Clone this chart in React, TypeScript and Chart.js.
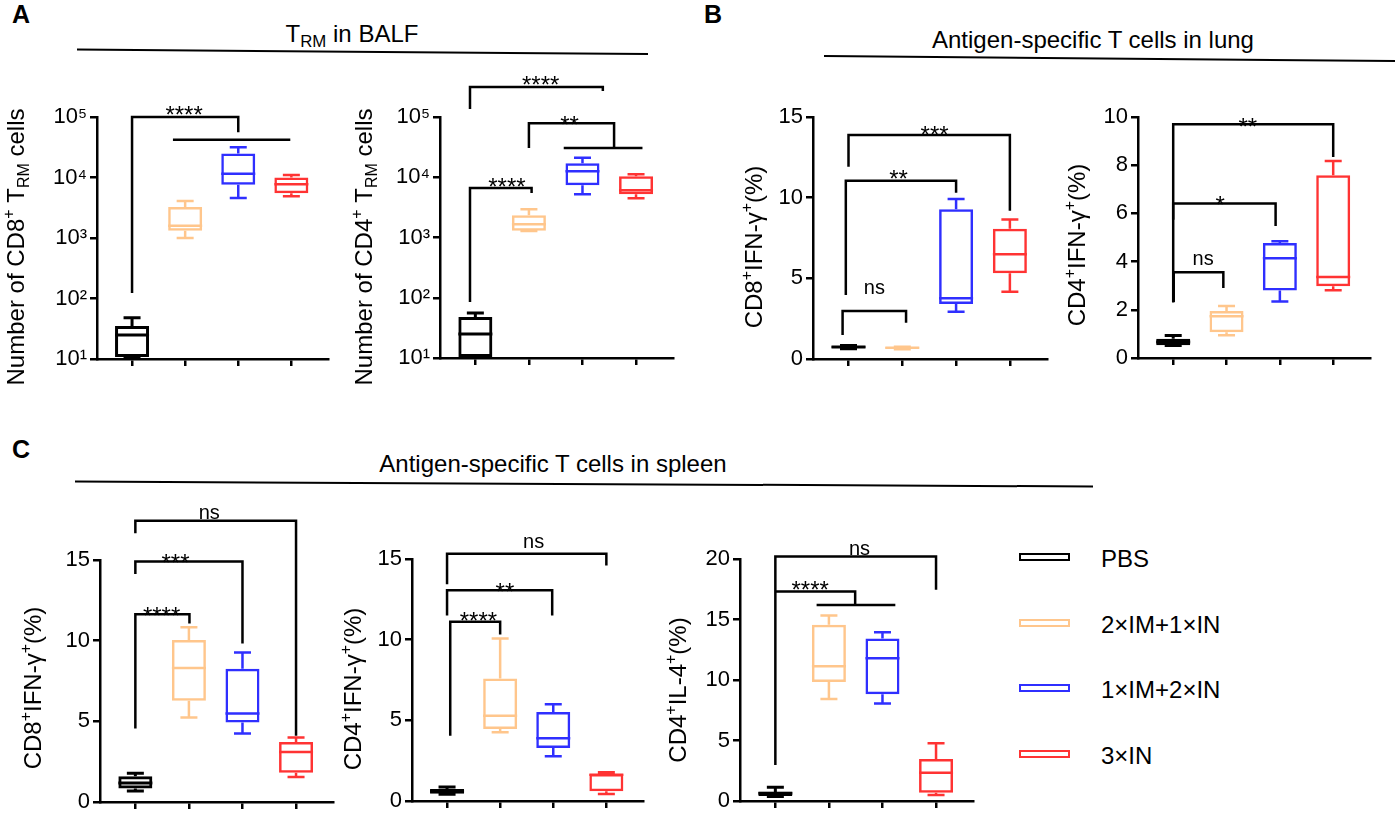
import React, { useEffect, useRef } from 'react';
import { Chart, registerables } from 'chart.js';

Chart.register(...registerables);

const FONT = "'Liberation Sans', Arial, Helvetica, sans-serif";

// ---------------- data ----------------
const GROUP_LABELS = ['PBS', '2×IM+1×IN', '1×IM+2×IN', '3×IN'];
const GROUP_X = [0, 1, 2, 3];

// five-number summaries per group: [min, q1, median, q3, max]
const A1_CD8_TRM = [
  [10.3, 10.8, 25, 35, 48],
  [1000, 1320, 1600, 3250, 4100],
  [4600, 7600, 11500, 25000, 31600],
  [4900, 5500, 7700, 10000, 11000],
];
const A2_CD4_TRM = [
  [10.2, 10.4, 25, 48, 56],
  [1280, 1290, 1660, 2350, 2950],
  [5200, 7400, 12600, 17000, 21000],
  [4500, 5200, 6100, 10400, 11200],
];
const B1_CD8_IFNG_LUNG = [
  [0.64, 0.68, 0.74, 0.8, 0.84],
  [0.6, 0.63, 0.7, 0.74, 0.76],
  [2.93, 3.41, 3.76, 9.28, 9.92],
  [4.17, 5.31, 6.49, 8.08, 8.64],
];
const B2_CD4_IFNG_LUNG = [
  [0.52, 0.53, 0.66, 0.8, 0.93],
  [0.94, 1.07, 1.73, 1.95, 2.16],
  [2.34, 2.8, 4.14, 4.77, 4.84],
  [2.81, 2.98, 3.36, 7.58, 8.17],
];
const C1_CD8_IFNG_SPLEEN = [
  [0.68, 0.83, 1.18, 1.6, 1.78],
  [5.24, 6.27, 8.3, 10.04, 10.83],
  [4.24, 4.93, 5.49, 8.26, 9.27],
  [1.55, 1.82, 3.1, 3.72, 4.0],
];
const C2_CD4_IFNG_SPLEEN = [
  [0.42, 0.45, 0.6, 0.74, 0.87],
  [4.26, 4.47, 5.28, 7.59, 10.07],
  [2.77, 3.29, 3.89, 5.52, 6.0],
  [0.43, 0.6, 1.62, 1.68, 1.78],
];
const C3_CD4_IL4_SPLEEN = [
  [0.38, 0.41, 0.64, 0.77, 1.13],
  [8.44, 9.84, 11.14, 14.56, 15.33],
  [8.05, 8.82, 11.8, 13.43, 13.95],
  [0.5, 0.69, 2.34, 3.47, 4.77],
];

// tick values
const LOG_TICKS = [10, 100, 1000, 10000, 100000];
const PCT15_TICKS = [0, 5, 10, 15];
const PCT10_TICKS = [0, 2, 4, 6, 8, 10];
const PCT20_TICKS = [0, 5, 10, 15, 20];

// significance brackets (data units): x1,x2 group positions, y bar height, y1/y2 leg ends
type Bracket = { x1: number; x2: number; y: number; y1?: number; y2?: number; label?: string; lx?: number; gap?: number };
const A1_BRACKETS: Bracket[] = [
  { x1: 0, x2: 2, y: 100000, y1: 123, y2: 56000, label: '****', lx: 0.98, gap: 4 },
  { x1: 0.77, x2: 2.98, y: 42000 },
];
const A2_BRACKETS: Bracket[] = [
  { x1: -0.1, x2: 2.38, y: 315000, y1: 136000, y2: 270000, label: '****', lx: 1.22, gap: 4 },
  { x1: 1, x2: 2.59, y: 79000, y1: 30500, y2: 30500, label: '**', lx: 1.76, gap: 0 },
  { x1: 1.65, x2: 3.12, y: 30500 },
  { x1: -0.1, x2: 1.05, y: 6600, y1: 85, y2: 5500, label: '****', lx: 0.59, gap: 3 },
];
const B1_BRACKETS: Bracket[] = [
  { x1: 0, x2: 3, y: 13.89, y1: 11.92, y2: 9.19, label: '***', lx: 1.6, gap: 2 },
  { x1: -0.05, x2: 2, y: 11.05, y1: 3.97, y2: 10.31, label: '**', lx: 0.93, gap: 4 },
  { x1: -0.11, x2: 1.07, y: 2.98, y1: 1.49, y2: 2.25, label: 'ns', lx: 0.48, gap: 17 },
];
const B2_BRACKETS: Bracket[] = [
  { x1: 0, x2: 3, y: 9.7, y1: 5.74, y2: 8.34, label: '**', lx: 1.4, gap: -1 },
  { x1: 0, x2: 1.92, y: 6.41, y1: 2.3, y2: 5.48, label: '*', lx: 0.88, gap: 0 },
  { x1: 0.01, x2: 0.94, y: 3.56, y1: 2.32, y2: 2.9, label: 'ns', lx: 0.56, gap: 7 },
];
const C1_BRACKETS: Bracket[] = [
  { x1: 0, x2: 3, y: 17.44, y1: 16.66, y2: 4.1, label: 'ns', lx: 1.38, gap: 2 },
  { x1: 0, x2: 2, y: 14.9, y1: 14.13, y2: 9.83, label: '***', lx: 0.75, gap: 0 },
  { x1: 0, x2: 1.01, y: 11.63, y1: 4.55, y2: 11.07, label: '****', lx: 0.49, gap: 0 },
];
const C2_BRACKETS: Bracket[] = [
  { x1: 0, x2: 3, y: 15.33, y1: 13.43, y2: 14.6, label: 'ns', lx: 1.63, gap: 6 },
  { x1: 0, x2: 1.98, y: 13.07, y1: 11.5, y2: 11.5, label: '**', lx: 1.09, gap: 0 },
  { x1: 0.06, x2: 1.0, y: 11.11, y1: 4.05, y2: 10.32, label: '****', lx: 0.59, gap: 3 },
];
const C3_BRACKETS: Bracket[] = [
  { x1: 0, x2: 3, y: 20.2, y1: 2.98, y2: 17.45, label: 'ns', lx: 1.57, gap: 2 },
  { x1: 0, x2: 1.49, y: 17.31, y2: 16.2, label: '****', lx: 0.65, gap: 3 },
  { x1: 0.77, x2: 2.24, y: 16.2 },
];

// ---------------- styles ----------------
const GROUP_COLORS = ['#000000', '#FFC68C', '#2F2FFF', '#FF3333'];
const BOX_W = 34;
const CAP_HALF = 8.5;
const AXIS_W = 2.5;

type Seg = [string, ('sup' | 'sub')?];

function segFont(size: number, kind?: string) {
  return `${kind ? Math.round(size * 0.65) : size}px ${FONT}`;
}
function richWidth(ctx: CanvasRenderingContext2D, segs: Seg[], size: number) {
  let w = 0;
  for (const [t, k] of segs) {
    ctx.font = segFont(size, k);
    w += ctx.measureText(t).width;
  }
  return w;
}
function drawRich(ctx: CanvasRenderingContext2D, segs: Seg[], x: number, baseline: number, size: number) {
  let cx = x;
  for (const [t, k] of segs) {
    ctx.font = segFont(size, k);
    const dy = k === 'sup' ? -size * 0.42 : k === 'sub' ? size * 0.22 : 0;
    ctx.fillText(t, cx, baseline + dy);
    cx += ctx.measureText(t).width;
  }
}

const SUP: Record<number, string> = { 1: '¹', 2: '²', 3: '³', 4: '⁴', 5: '⁵' };

interface Spec {
  boxes: number[][];
  yType: 'log' | 'linear';
  yMin: number;
  yMax: number;
  yTicks: number[];
  title: Seg[];
  titleCX: number;
  titleCY: number;
  area: { l: number; t: number; r: number; b: number };
  pt: number;
  brackets: Bracket[];
}

const YW = 95;
const PR = 12;
const XH = 12;
const PB = 40;
const TITLE_SIZE = 24;

function makePlugin(spec: Spec, canvasLeft: number, canvasTop: number) {
  return {
    id: 'boxExtras',
    afterDatasetsDraw(chart: any) {
      const ctx: CanvasRenderingContext2D = chart.ctx;
      const xs = chart.scales.x;
      const ys = chart.scales.y;
      ctx.save();
      spec.boxes.forEach((b, i) => {
        const xc = xs.getPixelForValue(GROUP_X[i]);
        const lw = i === 0 ? 3 : 2.5;
        ctx.strokeStyle = GROUP_COLORS[i];
        ctx.lineWidth = lw;
        ctx.lineCap = 'butt';
        const pMin = ys.getPixelForValue(b[0]);
        const pQ1 = ys.getPixelForValue(b[1]);
        const pMed = ys.getPixelForValue(b[2]);
        const pQ3 = ys.getPixelForValue(b[3]);
        const pMax = ys.getPixelForValue(b[4]);
        ctx.beginPath();
        ctx.moveTo(xc - BOX_W / 2, pMed);
        ctx.lineTo(xc + BOX_W / 2, pMed);
        ctx.moveTo(xc, pQ3);
        ctx.lineTo(xc, pMax);
        ctx.moveTo(xc - CAP_HALF, pMax);
        ctx.lineTo(xc + CAP_HALF, pMax);
        ctx.moveTo(xc, pQ1);
        ctx.lineTo(xc, pMin);
        ctx.moveTo(xc - CAP_HALF, pMin);
        ctx.lineTo(xc + CAP_HALF, pMin);
        ctx.stroke();
      });
      ctx.restore();
    },
    afterDraw(chart: any) {
      const ctx: CanvasRenderingContext2D = chart.ctx;
      const xs = chart.scales.x;
      const ys = chart.scales.y;
      ctx.save();
      ctx.strokeStyle = '#000';
      ctx.fillStyle = '#000';
      ctx.lineWidth = 2.5;
      ctx.lineJoin = 'miter';
      ctx.lineCap = 'butt';
      for (const br of spec.brackets) {
        const px1 = xs.getPixelForValue(br.x1);
        const px2 = xs.getPixelForValue(br.x2);
        const py = ys.getPixelForValue(br.y);
        ctx.beginPath();
        if (br.y1 !== undefined) {
          ctx.moveTo(px1, ys.getPixelForValue(br.y1));
          ctx.lineTo(px1, py);
        } else {
          ctx.moveTo(px1, py);
        }
        ctx.lineTo(px2, py);
        if (br.y2 !== undefined) ctx.lineTo(px2, ys.getPixelForValue(br.y2));
        ctx.stroke();
        if (br.label) {
          const star = br.label.includes('*');
          const fs = star ? 24 : 20;
          ctx.font = `${fs}px ${FONT}`;
          ctx.textAlign = 'center';
          ctx.textBaseline = 'alphabetic';
          const gap = br.gap ?? 3;
          const baseline = star ? py - gap + 0.41 * fs : py - gap;
          const lx = xs.getPixelForValue(br.lx ?? (br.x1 + br.x2) / 2);
          ctx.fillText(br.label, lx, baseline);
        }
      }
      // rotated y-axis title
      const cx = spec.titleCX - canvasLeft;
      const cy = spec.titleCY - canvasTop;
      ctx.translate(cx, cy);
      ctx.rotate(-Math.PI / 2);
      ctx.textAlign = 'left';
      ctx.textBaseline = 'alphabetic';
      const w = richWidth(ctx, spec.title, TITLE_SIZE);
      drawRich(ctx, spec.title, -w / 2, TITLE_SIZE * 0.716 / 2, TITLE_SIZE);
      ctx.restore();
    },
  };
}

function BoxChart({ spec }: { spec: Spec }) {
  const ref = useRef<HTMLCanvasElement>(null);
  const left = spec.area.l - YW;
  const top = spec.area.t - spec.pt;
  const width = spec.area.r - spec.area.l + YW + PR;
  const height = spec.area.b - spec.area.t + spec.pt + XH + PB;

  useEffect(() => {
    if (!ref.current) return;
    const isLog = spec.yType === 'log';
    const chart = new Chart(ref.current, {
      type: 'bar',
      data: {
        datasets: [
          {
            data: spec.boxes.map((b, i) => ({ x: GROUP_X[i], y: [b[1], b[3]] })) as any,
            backgroundColor: 'rgba(255,255,255,0)',
            borderColor: GROUP_COLORS,
            borderWidth: [3, 2.5, 2.5, 2.5],
            borderSkipped: false,
            barThickness: BOX_W,
            inflateAmount: 0,
          } as any,
        ],
      },
      options: {
        animation: false,
        responsive: false,
        events: [],
        layout: { padding: { top: spec.pt, right: PR, left: 0, bottom: PB } },
        plugins: { legend: { display: false }, tooltip: { enabled: false }, title: { display: false } },
        scales: {
          x: {
            type: 'linear',
            min: -0.66,
            max: 3.69,
            offset: false,
            grid: { display: true, offset: false, drawOnChartArea: false, drawTicks: true, tickLength: 7, color: '#000', lineWidth: AXIS_W },
            border: { display: true, color: '#000', width: AXIS_W },
            ticks: { display: false },
            afterBuildTicks: (s: any) => {
              s.ticks = GROUP_X.map((v) => ({ value: v }));
            },
            afterFit: (s: any) => {
              s.height = XH;
            },
          } as any,
          y: {
            type: isLog ? 'logarithmic' : 'linear',
            min: spec.yMin,
            max: spec.yMax,
            grid: { display: true, drawOnChartArea: false, drawTicks: true, tickLength: 7, color: '#000', lineWidth: AXIS_W },
            border: { display: true, color: '#000', width: AXIS_W },
            ticks: {
              color: '#000',
              padding: 3,
              font: { family: FONT, size: 22 },
              callback: (v: any) => {
                const n = Number(v);
                if (isLog) return '10' + SUP[Math.round(Math.log10(n))];
                return String(n);
              },
            },
            afterBuildTicks: (s: any) => {
              s.ticks = spec.yTicks.map((v) => ({ value: v }));
            },
            afterFit: (s: any) => {
              s.width = YW;
            },
          } as any,
        },
      },
      plugins: [makePlugin(spec, left, top) as any],
    });
    return () => chart.destroy();
  }, []);

  return (
    <canvas
      ref={ref}
      width={width}
      height={height}
      style={{ position: 'absolute', left, top, width, height }}
    />
  );
}

const SPECS: Spec[] = [
  {
    boxes: A1_CD8_TRM, yType: 'log', yMin: 10, yMax: 100000, yTicks: LOG_TICKS,
    title: [['Number of CD8'], ['+', 'sup'], [' T'], ['RM', 'sub'], [' cells']],
    titleCX: 15, titleCY: 247, area: { l: 97, t: 117, r: 328, b: 359 }, pt: 60, brackets: A1_BRACKETS,
  },
  {
    boxes: A2_CD4_TRM, yType: 'log', yMin: 10, yMax: 100000, yTicks: LOG_TICKS,
    title: [['Number of CD4'], ['+', 'sup'], [' T'], ['RM', 'sub'], [' cells']],
    titleCX: 363, titleCY: 247, area: { l: 440, t: 117, r: 673, b: 358 }, pt: 60, brackets: A2_BRACKETS,
  },
  {
    boxes: B1_CD8_IFNG_LUNG, yType: 'linear', yMin: 0, yMax: 15, yTicks: PCT15_TICKS,
    title: [['CD8'], ['+', 'sup'], ['IFN-γ'], ['+', 'sup'], ['(%)']],
    titleCX: 753, titleCY: 247, area: { l: 813, t: 117, r: 1047, b: 359 }, pt: 60, brackets: B1_BRACKETS,
  },
  {
    boxes: B2_CD4_IFNG_LUNG, yType: 'linear', yMin: 0, yMax: 10, yTicks: PCT10_TICKS,
    title: [['CD4'], ['+', 'sup'], ['IFN-γ'], ['+', 'sup'], ['(%)']],
    titleCX: 1076, titleCY: 245, area: { l: 1138, t: 117, r: 1370, b: 358 }, pt: 60, brackets: B2_BRACKETS,
  },
  {
    boxes: C1_CD8_IFNG_SPLEEN, yType: 'linear', yMin: 0, yMax: 15, yTicks: PCT15_TICKS,
    title: [['CD8'], ['+', 'sup'], ['IFN-γ'], ['+', 'sup'], ['(%)']],
    titleCX: 32, titleCY: 688, area: { l: 100, t: 560, r: 333, b: 802 }, pt: 70, brackets: C1_BRACKETS,
  },
  {
    boxes: C2_CD4_IFNG_SPLEEN, yType: 'linear', yMin: 0, yMax: 15, yTicks: PCT15_TICKS,
    title: [['CD4'], ['+', 'sup'], ['IFN-γ'], ['+', 'sup'], ['(%)']],
    titleCX: 352, titleCY: 689, area: { l: 412, t: 559, r: 643, b: 801 }, pt: 70, brackets: C2_BRACKETS,
  },
  {
    boxes: C3_CD4_IL4_SPLEEN, yType: 'linear', yMin: 0, yMax: 20, yTicks: PCT20_TICKS,
    title: [['CD4'], ['+', 'sup'], ['IL-4'], ['+', 'sup'], ['(%)']],
    titleCX: 677, titleCY: 690, area: { l: 740, t: 559, r: 973, b: 801 }, pt: 70, brackets: C3_BRACKETS,
  },
];

const LEGEND_Y = [556.7, 622.7, 688.3, 754.3];

function SectionTitle({ cx, top, children }: { cx: number; top: number; children: React.ReactNode }) {
  return (
    <div
      style={{
        position: 'absolute', left: cx - 250, width: 500, top, textAlign: 'center',
        font: `24px ${FONT}`, lineHeight: '24px', whiteSpace: 'nowrap', color: '#000',
      }}
    >
      {children}
    </div>
  );
}

function Letter({ x, top, t }: { x: number; top: number; t: string }) {
  return (
    <div style={{ position: 'absolute', left: x, top, font: `bold 25px ${FONT}`, lineHeight: '25px', color: '#000' }}>{t}</div>
  );
}

export default function App() {
  return (
    <div style={{ position: 'absolute', left: 0, top: 0, width: 1400, height: 815, overflow: 'hidden', background: '#fff' }}>
      <svg width={1400} height={815} style={{ position: 'absolute', left: 0, top: 0 }}>
        <line x1={77} y1={49.5} x2={648} y2={54} stroke="#000" strokeWidth={2} />
        <line x1={824} y1={56} x2={1395} y2={61} stroke="#000" strokeWidth={2} />
        <line x1={75} y1={481.5} x2={1093} y2={486.5} stroke="#000" strokeWidth={2} />
      </svg>
      <Letter x={12} top={2} t="A" />
      <Letter x={704} top={2} t="B" />
      <Letter x={12} top={437} t="C" />
      <SectionTitle cx={352} top={21.7}>
        T<span style={{ fontSize: '0.7em', position: 'relative', top: '0.3em' }}>RM</span> in BALF
      </SectionTitle>
      <SectionTitle cx={1093} top={27.7}>Antigen-specific T cells in lung</SectionTitle>
      <SectionTitle cx={553} top={452.2}>Antigen-specific T cells in spleen</SectionTitle>
      {SPECS.map((s, i) => (
        <BoxChart key={i} spec={s} />
      ))}
      {GROUP_LABELS.map((g, i) => (
        <div key={g} style={{ position: 'absolute', left: 1019, top: LEGEND_Y[i] - 15, height: 30, display: 'flex', alignItems: 'center' }}>
          <div style={{ width: 51, height: 8, boxSizing: 'border-box', border: `2.5px solid ${GROUP_COLORS[i]}`, background: '#fff' }} />
          <div style={{ marginLeft: 31, font: `24px ${FONT}`, lineHeight: '30px', position: 'relative', top: 2, color: '#000', whiteSpace: 'nowrap' }}>{g}</div>
        </div>
      ))}
    </div>
  );
}
